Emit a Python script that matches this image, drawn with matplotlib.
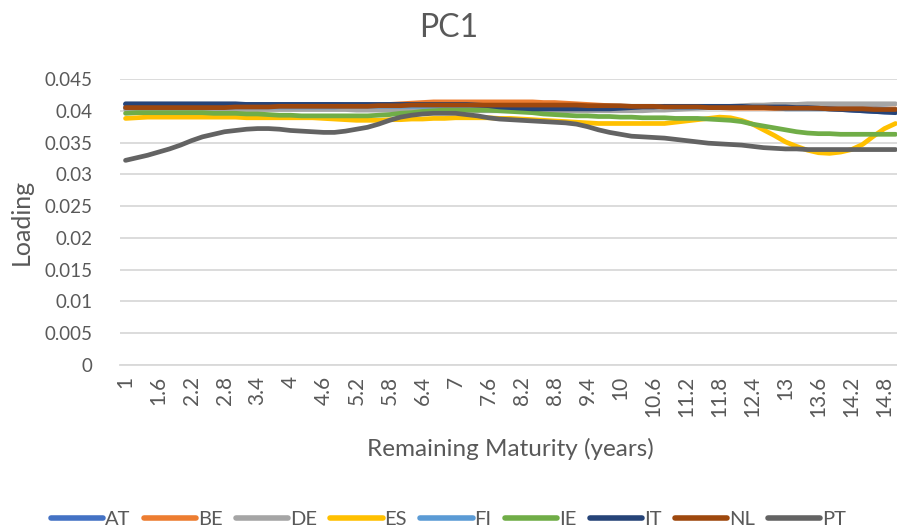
import matplotlib
matplotlib.use('Agg')
import matplotlib.pyplot as plt

plt.rcParams['font.family'] = ['Lato', 'DejaVu Sans']

# remaining maturity 1.0 .. 15.0 in 0.2 steps (category axis)
maturity = ['1', '1.2', '1.4', '1.6', '1.8', '2', '2.2', '2.4', '2.6', '2.8',
            '3', '3.2', '3.4', '3.6', '3.8', '4', '4.2', '4.4', '4.6', '4.8',
            '5', '5.2', '5.4', '5.6', '5.8', '6', '6.2', '6.4', '6.6', '6.8',
            '7', '7.2', '7.4', '7.6', '7.8', '8', '8.2', '8.4', '8.6', '8.8',
            '9', '9.2', '9.4', '9.6', '9.8', '10', '10.2', '10.4', '10.6', '10.8',
            '11', '11.2', '11.4', '11.6', '11.8', '12', '12.2', '12.4', '12.6', '12.8',
            '13', '13.2', '13.4', '13.6', '13.8', '14', '14.2', '14.4', '14.6', '14.8',
            '15']

AT = [0.0410, 0.0410, 0.0410, 0.0410, 0.0410, 0.0410, 0.0410, 0.0410, 0.0410, 0.0410,
      0.0410, 0.0410, 0.0410, 0.0410, 0.0410, 0.0410, 0.0410, 0.0410, 0.0410, 0.0410,
      0.0409, 0.0409, 0.0409, 0.0409, 0.0409, 0.0409, 0.0409, 0.0409, 0.0409, 0.0409,
      0.0409, 0.0409, 0.0408, 0.0407, 0.0406, 0.0405, 0.0404, 0.0404, 0.0404, 0.0404,
      0.0404, 0.0404, 0.0404, 0.0404, 0.0404, 0.0405, 0.0405, 0.0405, 0.0405, 0.0405,
      0.0406, 0.0406, 0.0406, 0.0406, 0.0406, 0.0406, 0.0406, 0.0406, 0.0406, 0.0406,
      0.0405, 0.0405, 0.0404, 0.0404, 0.0403, 0.0402, 0.0401, 0.0400, 0.0399, 0.0398,
      0.0398]
BE = [0.0405, 0.0405, 0.0405, 0.0405, 0.0405, 0.0405, 0.0405, 0.0405, 0.0405, 0.0405,
      0.0405, 0.0405, 0.0405, 0.0405, 0.0405, 0.0405, 0.0405, 0.0405, 0.0405, 0.0405,
      0.0406, 0.0407, 0.0408, 0.0409, 0.0410, 0.0411, 0.0412, 0.0413, 0.0414, 0.0414,
      0.0414, 0.0414, 0.0414, 0.0414, 0.0414, 0.0414, 0.0414, 0.0414, 0.0413, 0.0413,
      0.0412, 0.0411, 0.0410, 0.0409, 0.0408, 0.0407, 0.0406, 0.0406, 0.0405, 0.0405,
      0.0405, 0.0405, 0.0405, 0.0405, 0.0405, 0.0404, 0.0404, 0.0404, 0.0404, 0.0404,
      0.0404, 0.0404, 0.0404, 0.0404, 0.0404, 0.0404, 0.0404, 0.0404, 0.0404, 0.0403,
      0.0403]
DE = [0.0402, 0.0402, 0.0402, 0.0402, 0.0402, 0.0402, 0.0402, 0.0402, 0.0402, 0.0402,
      0.0402, 0.0402, 0.0402, 0.0402, 0.0402, 0.0402, 0.0402, 0.0402, 0.0402, 0.0402,
      0.0402, 0.0401, 0.0401, 0.0401, 0.0401, 0.0401, 0.0401, 0.0401, 0.0401, 0.0401,
      0.0401, 0.0401, 0.0400, 0.0400, 0.0400, 0.0400, 0.0400, 0.0400, 0.0400, 0.0400,
      0.0400, 0.0400, 0.0400, 0.0400, 0.0400, 0.0400, 0.0400, 0.0400, 0.0401, 0.0401,
      0.0402, 0.0403, 0.0404, 0.0405, 0.0406, 0.0407, 0.0408, 0.0409, 0.0409, 0.0410,
      0.0410, 0.0410, 0.0411, 0.0411, 0.0411, 0.0411, 0.0411, 0.0411, 0.0411, 0.0411,
      0.0411]
ES = [0.0388, 0.0389, 0.0390, 0.0390, 0.0390, 0.0390, 0.0390, 0.0390, 0.0390, 0.0390,
      0.0390, 0.0389, 0.0389, 0.0389, 0.0389, 0.0389, 0.0389, 0.0389, 0.0388, 0.0387,
      0.0386, 0.0385, 0.0385, 0.0385, 0.0386, 0.0386, 0.0387, 0.0387, 0.0388, 0.0388,
      0.0389, 0.0389, 0.0389, 0.0389, 0.0388, 0.0388, 0.0387, 0.0386, 0.0385, 0.0384,
      0.0383, 0.0382, 0.0381, 0.0380, 0.0380, 0.0380, 0.0380, 0.0380, 0.0380, 0.0380,
      0.0382, 0.0384, 0.0386, 0.0388, 0.0390, 0.0389, 0.0385, 0.0379, 0.0370, 0.0361,
      0.0351, 0.0344, 0.0338, 0.0334, 0.0333, 0.0335, 0.0339, 0.0347, 0.0360, 0.0372,
      0.0380]
FI = [0.0405, 0.0405, 0.0405, 0.0405, 0.0405, 0.0405, 0.0405, 0.0405, 0.0405, 0.0405,
      0.0406, 0.0406, 0.0406, 0.0406, 0.0406, 0.0406, 0.0406, 0.0406, 0.0406, 0.0406,
      0.0407, 0.0407, 0.0407, 0.0407, 0.0407, 0.0407, 0.0407, 0.0407, 0.0407, 0.0407,
      0.0408, 0.0408, 0.0408, 0.0408, 0.0408, 0.0408, 0.0408, 0.0408, 0.0408, 0.0408,
      0.0407, 0.0407, 0.0407, 0.0407, 0.0407, 0.0407, 0.0407, 0.0407, 0.0407, 0.0407,
      0.0405, 0.0405, 0.0405, 0.0405, 0.0405, 0.0405, 0.0405, 0.0405, 0.0405, 0.0405,
      0.0403, 0.0403, 0.0403, 0.0403, 0.0403, 0.0403, 0.0403, 0.0403, 0.0403, 0.0403,
      0.0402]
IE = [0.0396, 0.0397, 0.0397, 0.0397, 0.0397, 0.0397, 0.0397, 0.0397, 0.0396, 0.0396,
      0.0396, 0.0395, 0.0395, 0.0394, 0.0393, 0.0393, 0.0392, 0.0392, 0.0392, 0.0392,
      0.0392, 0.0392, 0.0392, 0.0393, 0.0394, 0.0396, 0.0397, 0.0399, 0.0400, 0.0401,
      0.0401, 0.0401, 0.0401, 0.0401, 0.0400, 0.0399, 0.0398, 0.0397, 0.0395, 0.0394,
      0.0393, 0.0392, 0.0392, 0.0391, 0.0391, 0.0390, 0.0390, 0.0389, 0.0389, 0.0389,
      0.0388, 0.0388, 0.0388, 0.0387, 0.0386, 0.0385, 0.0383, 0.0379, 0.0376, 0.0373,
      0.0370, 0.0367, 0.0365, 0.0364, 0.0364, 0.0363, 0.0363, 0.0363, 0.0363, 0.0363,
      0.0363]
IT = [0.0411, 0.0411, 0.0411, 0.0411, 0.0411, 0.0411, 0.0411, 0.0411, 0.0411, 0.0411,
      0.0411, 0.0410, 0.0410, 0.0410, 0.0410, 0.0410, 0.0410, 0.0410, 0.0410, 0.0410,
      0.0410, 0.0410, 0.0410, 0.0410, 0.0410, 0.0410, 0.0410, 0.0410, 0.0410, 0.0410,
      0.0410, 0.0410, 0.0409, 0.0408, 0.0406, 0.0405, 0.0404, 0.0403, 0.0403, 0.0403,
      0.0403, 0.0403, 0.0403, 0.0403, 0.0403, 0.0404, 0.0405, 0.0406, 0.0406, 0.0407,
      0.0407, 0.0407, 0.0407, 0.0407, 0.0407, 0.0407, 0.0407, 0.0406, 0.0406, 0.0406,
      0.0406, 0.0405, 0.0405, 0.0404, 0.0403, 0.0402, 0.0401, 0.0400, 0.0399, 0.0398,
      0.0397]
NL = [0.0405, 0.0405, 0.0405, 0.0405, 0.0405, 0.0405, 0.0405, 0.0405, 0.0405, 0.0405,
      0.0406, 0.0406, 0.0406, 0.0406, 0.0407, 0.0407, 0.0407, 0.0407, 0.0407, 0.0407,
      0.0407, 0.0407, 0.0407, 0.0408, 0.0408, 0.0408, 0.0409, 0.0409, 0.0409, 0.0409,
      0.0409, 0.0409, 0.0409, 0.0409, 0.0409, 0.0409, 0.0409, 0.0409, 0.0409, 0.0409,
      0.0409, 0.0409, 0.0408, 0.0408, 0.0408, 0.0408, 0.0407, 0.0407, 0.0407, 0.0406,
      0.0406, 0.0406, 0.0406, 0.0405, 0.0405, 0.0405, 0.0405, 0.0405, 0.0405, 0.0404,
      0.0404, 0.0404, 0.0404, 0.0404, 0.0403, 0.0403, 0.0403, 0.0403, 0.0402, 0.0402,
      0.0402]
PT = [0.0322, 0.0326, 0.0330, 0.0335, 0.0340, 0.0346, 0.0353, 0.0359, 0.0363, 0.0367,
      0.0369, 0.0371, 0.0372, 0.0372, 0.0371, 0.0369, 0.0368, 0.0367, 0.0366, 0.0366,
      0.0368, 0.0371, 0.0374, 0.0379, 0.0385, 0.0390, 0.0393, 0.0395, 0.0396, 0.0396,
      0.0396, 0.0394, 0.0392, 0.0389, 0.0387, 0.0386, 0.0385, 0.0384, 0.0383, 0.0382,
      0.0381, 0.0379, 0.0375, 0.0370, 0.0366, 0.0363, 0.0360, 0.0359, 0.0358, 0.0357,
      0.0355, 0.0353, 0.0351, 0.0349, 0.0348, 0.0347, 0.0346, 0.0344, 0.0342, 0.0341,
      0.0340, 0.0340, 0.0339, 0.0339, 0.0339, 0.0339, 0.0339, 0.0339, 0.0339, 0.0339,
      0.0339]

series = [('AT', AT, '#4472C4'), ('BE', BE, '#ED7D31'), ('DE', DE, '#A5A5A5'),
          ('ES', ES, '#FFC000'), ('FI', FI, '#5B9BD5'), ('IE', IE, '#70AD47'),
          ('IT', IT, '#264478'), ('NL', NL, '#9E480E'), ('PT', PT, '#636363')]

txt = '#595959'
fig = plt.figure(figsize=(8.97, 5.32), dpi=100)
ax = fig.add_axes([0.1338, 0.3139, 0.8707, 0.5376])

x = list(range(len(maturity)))
for name, vals, col in series:
    ax.plot(x, vals, color=col, lw=3.4, label=name, solid_capstyle='round')

ax.set_xlim(-0.5, len(maturity) - 0.5)
ax.set_ylim(0, 0.045)
ax.set_yticks([0, 0.005, 0.01, 0.015, 0.02, 0.025, 0.03, 0.035, 0.04, 0.045])
ax.set_yticklabels(['0', '0.005', '0.01', '0.015', '0.02', '0.025', '0.03', '0.035', '0.04', '0.045'])
ax.set_xticks(x[::3])
ax.set_xticklabels(maturity[::3], rotation=90)
ax.tick_params(length=0, colors=txt)
ax.tick_params(axis='y', pad=20, labelsize=13.5)
ax.tick_params(axis='x', pad=8, labelsize=15)
ax.grid(axis='y', color='#D9D9D9', lw=1.3)
ax.set_axisbelow(True)
for s in ['top', 'right', 'left']:
    ax.spines[s].set_visible(False)
ax.spines['bottom'].set_color('#D9D9D9')
ax.spines['bottom'].set_linewidth(1.3)

ax.set_xlabel('Remaining Maturity (years)', fontsize=17.5, color=txt, labelpad=15)
ax.set_ylabel('Loading', fontsize=18, color=txt, labelpad=8)
fig.text(0.5, 0.947, 'PC1', ha='center', va='center', fontsize=23, color=txt)

leg = fig.legend(loc='center', bbox_to_anchor=(0.5, 0.024), ncol=9, frameon=False,
                 fontsize=14.5, handlelength=2.6, handletextpad=0.1, columnspacing=0.65,
                 labelcolor=txt)
for h in leg.get_lines():
    h.set_linewidth(4)

fig.savefig('out.png', dpi=100)
